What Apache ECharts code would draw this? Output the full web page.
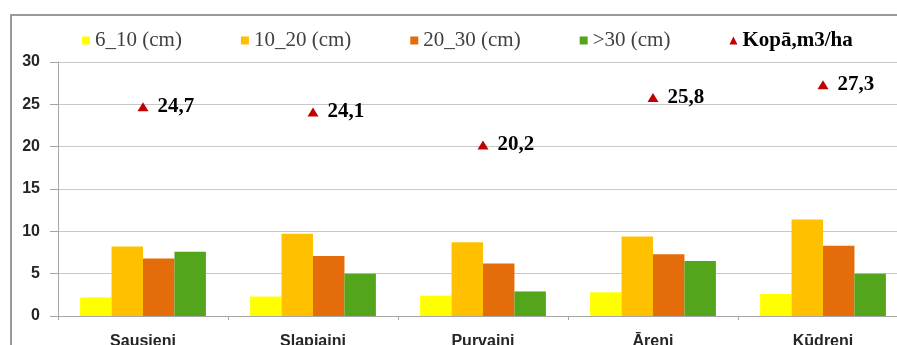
<!DOCTYPE html>
<html>
<head>
<meta charset="utf-8">
<script src="https://cdn.jsdelivr.net/npm/echarts@6/dist/echarts.min.js"></script>
<style>
  html, body { margin: 0; padding: 0; background: #fff; }
  #frame { position: absolute; left: 10px; top: 14px; width: 900px; height: 340px; border: 2px solid #9a9a9a; box-sizing: border-box; }
  #chart { position: absolute; left: 0; top: 0; width: 897px; height: 345px; }
</style>
</head>
<body>
<div id="frame"></div>
<div id="chart"></div>
<script>
const categories = ['Sausieni', 'Slapjaini', 'Purvaini', 'Āreni', 'Kūdreni']
const seriesNames = ['6_10 (cm)', '10_20 (cm)', '20_30 (cm)', '>30 (cm)']
const d6_10 = [2.2, 2.3, 2.4, 2.8, 2.6]
const d10_20 = [8.2, 9.7, 8.7, 9.4, 11.4]
const d20_30 = [6.8, 7.1, 6.2, 7.3, 8.3]
const d30 = [7.6, 5.0, 2.9, 6.5, 5.0]
const totalName = 'Kopā,m3/ha'
const total = [24.7, 24.1, 20.2, 25.8, 27.3]
const yTicks = [0, 5, 10, 15, 20, 25, 30]

const colors = ['#FFFF00', '#FFC000', '#E46C0A', '#53A51B']
const barData = [d6_10, d10_20, d20_30, d30]

const chart = echarts.init(document.getElementById('chart'))

const barSeries = seriesNames.map((name, i) => ({
  name: name,
  type: 'bar',
  data: barData[i],
  barGap: '0%',
  barCategoryGap: '26%',
  itemStyle: { color: colors[i] }
}))

const option = {
  animation: false,
  backgroundColor: 'transparent',
  legend: {
    left: 82,
    top: 30,
    padding: 0,
    itemWidth: 8,
    itemHeight: 8,
    itemGap: 59,
    textStyle: { fontFamily: 'Liberation Serif', fontSize: 21, color: '#404040' },
    data: seriesNames.map(n => ({ name: n, icon: 'rect' })).concat([{
      name: totalName,
      icon: 'triangle',
      textStyle: { fontWeight: 'bold', color: '#000' }
    }])
  },
  grid: {
    left: 58,
    width: 850,
    top: 62,
    bottom: 29,
    outerBoundsMode: 'none'
  },
  xAxis: {
    type: 'category',
    data: categories,
    axisLine: { lineStyle: { color: '#a6a6a6' } },
    axisTick: { show: true, length: 4, lineStyle: { color: '#a6a6a6' } },
    axisLabel: {
      margin: 18,
      fontFamily: 'Liberation Sans',
      fontSize: 16,
      fontWeight: 'bold',
      color: '#262626'
    }
  },
  yAxis: {
    type: 'value',
    min: yTicks[0],
    max: yTicks[yTicks.length - 1],
    interval: 5,
    axisLine: { show: true, lineStyle: { color: '#a6a6a6' } },
    axisTick: { show: true, length: 8, lineStyle: { color: '#a6a6a6' } },
    splitLine: { lineStyle: { color: '#c8c8c8' } },
    axisLabel: {
      margin: 18,
      fontFamily: 'Liberation Sans',
      fontSize: 16,
      fontWeight: 'bold',
      color: '#262626'
    }
  },
  series: barSeries.concat([{
    name: totalName,
    type: 'scatter',
    data: total,
    symbol: 'triangle',
    symbolSize: [11, 9],
    itemStyle: { color: '#C00000', opacity: 1 },
    label: {
      show: true,
      position: 'right',
      distance: 9,
      fontFamily: 'Liberation Serif',
      fontSize: 21,
      fontWeight: 'bold',
      color: '#000',
      formatter: p => String(p.value).replace('.', ',')
    }
  }])
}

chart.setOption(option)
</script>
</body>
</html>
